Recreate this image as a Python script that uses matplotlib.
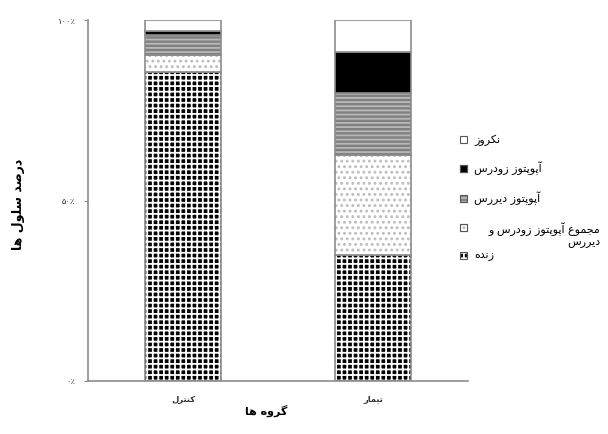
import matplotlib
matplotlib.use("Agg")
import matplotlib.pyplot as plt
from matplotlib.patches import Rectangle

# ── data ────────────────────────────────────────────────────────────────
groups = ["کنترل", "تیمار"]
live = [85.5, 34.9]          # زنده
total_apop = [4.8, 27.7]     # مجموع آپوپتوز زودرس و دیررس
late_apop = [5.5, 17.2]      # آپوپتوز دیررس
early_apop = [1.2, 11.4]     # آپوپتوز زودرس
necrosis = [3.0, 8.8]        # نکروز

series_labels = ["زنده", "مجموع آپوپتوز زودرس و\nدیررس", "آپوپتوز دیررس",
                 "آپوپتوز زودرس", "نکروز"]
yticks = [0, 50, 100]
ytick_labels = ["۰٪", "۵۰٪", "۱۰۰٪"]
xlabel = "گروه ها"
ylabel = "درصد سلول ها"

# ── simple Persian shaping (matplotlib draws left-to-right, unshaped) ───
FORMS = {
    'ا': (0xFE8D, 0xFE8E, None, None), 'آ': (0xFE81, 0xFE82, None, None),
    'د': (0xFEA9, 0xFEAA, None, None), 'ر': (0xFEAD, 0xFEAE, None, None),
    'ز': (0xFEAF, 0xFEB0, None, None), 'و': (0xFEED, 0xFEEE, None, None),
    'ص': (0xFEB9, 0xFEBA, 0xFEBB, 0xFEBC), 'س': (0xFEB1, 0xFEB2, 0xFEB3, 0xFEB4),
    'ل': (0xFEDD, 0xFEDE, 0xFEDF, 0xFEE0), 'ه': (0xFEE9, 0xFEEA, 0xFEEB, 0xFEEC),
    'ن': (0xFEE5, 0xFEE6, 0xFEE7, 0xFEE8), 'ت': (0xFE95, 0xFE96, 0xFE97, 0xFE98),
    'م': (0xFEE1, 0xFEE2, 0xFEE3, 0xFEE4), 'ج': (0xFE9D, 0xFE9E, 0xFE9F, 0xFEA0),
    'ع': (0xFEC9, 0xFECA, 0xFECB, 0xFECC), 'پ': (0xFB56, 0xFB57, 0xFB58, 0xFB59),
    'گ': (0xFB92, 0xFB93, 0xFB94, 0xFB95), 'ک': (0xFB8E, 0xFB8F, 0xFB90, 0xFB91),
    'ی': (0xFBFC, 0xFBFD, 0xFBFE, 0xFBFF),
}


def fa_line(s):
    out = []
    for i, c in enumerate(s):
        if c not in FORMS:
            out.append(c)
            continue
        prev = s[i - 1] if i > 0 else None
        nxt = s[i + 1] if i + 1 < len(s) else None
        iso, fin, ini, med = FORMS[c]
        jp = prev in FORMS and FORMS[prev][2] is not None
        jn = ini is not None and nxt in FORMS
        if jp and jn:
            g = med
        elif jp:
            g = fin
        elif jn:
            g = ini
        else:
            g = iso
        out.append(chr(g))
    return "".join(reversed(out))


def fa(s):
    return "\n".join(fa_line(l) for l in s.split("\n"))


# ── styles ──────────────────────────────────────────────────────────────
EDGE = "#8c8c8c"
styles = [
    dict(facecolor="black", edgecolor="white", hatch="+++"),     # live
    dict(facecolor="white", edgecolor="#bdbdbd", hatch="..."),   # total
    dict(facecolor="#808080", edgecolor="#b8b8b8", hatch="----"),  # late
    dict(facecolor="black", edgecolor="black", hatch=None),      # early
    dict(facecolor="white", edgecolor="white", hatch=None),      # necrosis
]

plt.rcParams["font.family"] = ["DejaVu Sans"]
plt.rcParams["hatch.linewidth"] = 1.3

fig = plt.figure(figsize=(6.08, 4.34), dpi=100)
ax = fig.add_axes([88 / 608, 1 - 381 / 434, 380 / 608, 361 / 434])

x = list(range(len(groups)))
width = 0.4
series = [live, total_apop, late_apop, early_apop, necrosis]
bottom = [0.0] * len(groups)
for vals, st in zip(series, styles):
    ax.bar(x, vals, width, bottom=bottom, linewidth=0, **st)
    ax.bar(x, vals, width, bottom=bottom, fill=False, edgecolor=EDGE, linewidth=1.2)
    bottom = [b + v for b, v in zip(bottom, vals)]

ax.set_xlim(-0.5, 1.5)
ax.set_ylim(0, 100)
ax.set_yticks(yticks)
ax.set_yticklabels(ytick_labels, fontsize=6, color="#333333")
ax.set_xticks(x)
ax.set_xticklabels([fa(g) for g in groups], fontsize=6, fontweight="bold", color="#333333")
ax.tick_params(axis="y", length=3, width=0.8, color=EDGE, pad=6)
ax.tick_params(axis="x", length=0, pad=10)
for s in ["top", "right"]:
    ax.spines[s].set_visible(False)
for s in ["left", "bottom"]:
    ax.spines[s].set_color(EDGE)
    ax.spines[s].set_linewidth(1.2)

ax.set_xlabel(fa(xlabel), fontsize=8, fontweight="bold")
ax.xaxis.set_label_coords(0.47, -0.066)
ax.set_ylabel(fa(ylabel), fontsize=9, fontweight="bold")
ax.yaxis.set_label_coords(-0.166, 0.49)

# ── legend (drawn at right, top entry = top of stack) ───────────────────
leg_y = [255, 227, 198, 168, 140]   # pixel rows, matching series order
for lab, st, py in zip(series_labels, styles, leg_y):
    fig.patches.append(Rectangle((460 / 608, 1 - (py + 3.5) / 434), 7 / 608, 7 / 434,
                                 transform=fig.transFigure, linewidth=0.8,
                                 facecolor=st["facecolor"],
                                 edgecolor=st["edgecolor"], hatch=st["hatch"]))
    fig.patches.append(Rectangle((460 / 608, 1 - (py + 3.5) / 434), 7 / 608, 7 / 434,
                                 transform=fig.transFigure, linewidth=0.8,
                                 fill=False, edgecolor="#555555"))
    if "\n" in lab:
        fig.text(600 / 608, 1 - (py - 5) / 434, fa(lab), fontsize=8,
                 ha="right", va="top", multialignment="right", linespacing=1.1)
    else:
        fig.text(474 / 608, 1 - py / 434, fa(lab), fontsize=8,
                 ha="left", va="center")

fig.savefig("out.png", dpi=100, facecolor="white")
